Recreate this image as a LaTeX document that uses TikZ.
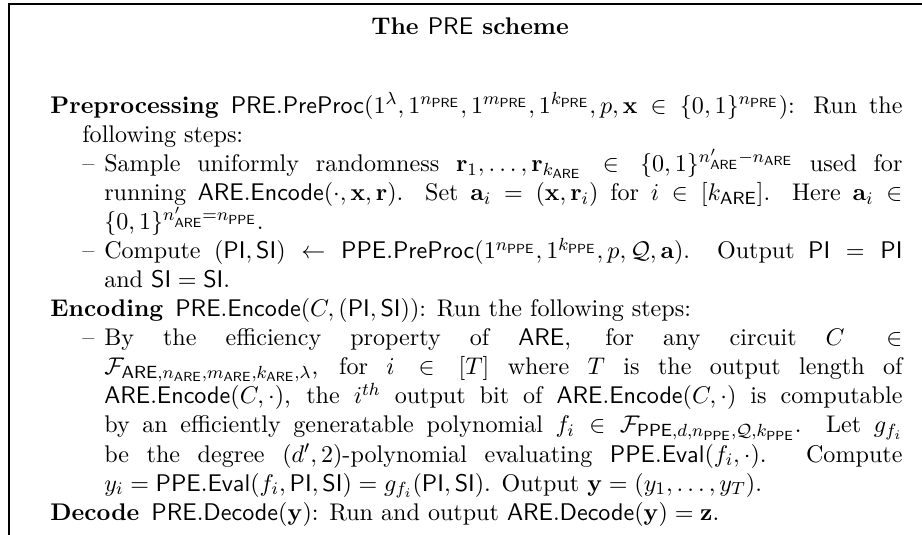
\documentclass[11pt,tikz,border=0pt]{standalone}
\usepackage{amsmath,amssymb}
\usepackage{enumitem}
\newcommand{\ppe}{\mathsf{PPE}}
\newcommand{\are}{\mathsf{ARE}}
\newcommand{\pre}{\mathsf{PRE}}
\setlist[itemize]{label=--,leftmargin=*,labelsep=4.5pt,topsep=0pt,partopsep=0pt,itemsep=0pt,parsep=0pt}
\setlist[description]{leftmargin=14.5pt,topsep=0pt,partopsep=0pt,itemsep=0pt,parsep=0pt}
\tikzset{schemebody/.style={anchor=north west,inner sep=0pt,text width=387.3pt,align=justify,font=\fontsize{10.95}{13.2}\selectfont}}
\begin{document}
\begin{tikzpicture}
        \useasboundingbox (0,0) rectangle (14.730,-8.547);
        \draw[line width=0.7pt] (0.144,-8.547)--(0.144,-0.064)--(14.730,-0.064);
        \node[anchor=base] (title) at (7.509,-0.559) {\textbf{The $\pre$ scheme}};
        \node[schemebody] (body) at (0.799,-1.343) {%
\begin{description}
\item[Preprocessing] $\mathsf{PRE.PreProc}(1^\lambda,1^{n_{\pre}},1^{m_{\pre}},1^{k_{\pre}},p,\mathbf{x}\in\{0,1\}^{n_{\pre}})$: Run the\linebreak following steps:
  \begin{itemize}
  \item Sample uniformly randomness $\mathbf{r}_1,\ldots,\mathbf{r}_{k_{\are}}\in\{0,1\}^{n'_{\are}-n_{\are}}$ used for\linebreak running $\mathsf{ARE.Encode}(\cdot,\mathbf{x},\mathbf{r})$. Set $\mathbf{a}_i=(\mathbf{x},\mathbf{r}_i)$ for $i\in[k_{\are}]$. Here $\mathbf{a}_i\in$\linebreak $\{0,1\}^{n'_{\are}=n_{\ppe}}$.
  \item Compute $(\mathsf{PI},\mathsf{SI})\leftarrow\mathsf{PPE.PreProc}(1^{n_{\ppe}},1^{k_{\ppe}},p,\mathcal{Q},\mathbf{a})$. Output $\mathsf{PI}=\mathsf{PI}$\linebreak and $\mathsf{SI}=\mathsf{SI}$.
  \end{itemize}
\item[Encoding] $\mathsf{PRE.Encode}(C,(\mathsf{PI},\mathsf{SI}))$: Run the following steps:
  \begin{itemize}
  \item By the efficiency property of $\are$, for any circuit $C\in$\linebreak $\mathcal{F}_{\are,n_{\are},m_{\are},k_{\are},\lambda}$, for $i\in[T]$ where $T$ is the output length of\linebreak $\mathsf{ARE.Encode}(C,\cdot)$, the $i^{th}$ output bit of $\mathsf{ARE.Encode}(C,\cdot)$ is computable\linebreak by an efficiently generatable polynomial $f_i\in\mathcal{F}_{\ppe,d,n_{\ppe},\mathcal{Q},k_{\ppe}}$. Let $g_{f_i}$\linebreak be the degree $(d',2)$-polynomial evaluating $\mathsf{PPE.Eval}(f_i,\cdot)$. Compute\linebreak $y_i=\mathsf{PPE.Eval}(f_i,\mathsf{PI},\mathsf{SI})=g_{f_i}(\mathsf{PI},\mathsf{SI})$. Output $\mathbf{y}=(y_1,\ldots,y_T)$.
  \end{itemize}
\item[Decode] $\mathsf{PRE.Decode}(\mathbf{y})$: Run and output $\mathsf{ARE.Decode}(\mathbf{y})=\mathbf{z}$.
\end{description}};
    \end{tikzpicture}
\end{document}
